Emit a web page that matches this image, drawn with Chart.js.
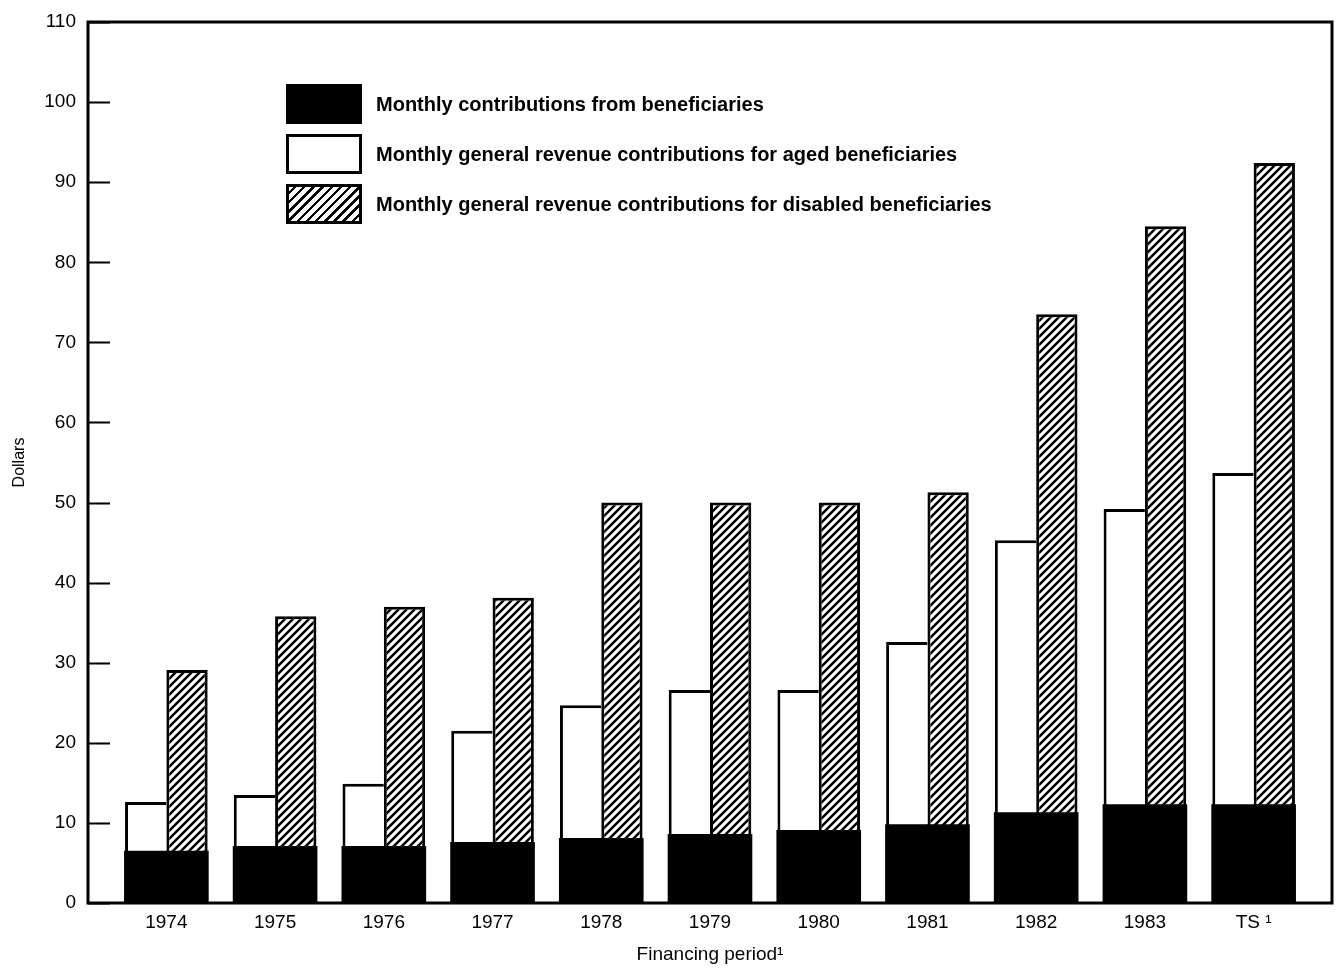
<!DOCTYPE html>
<html>
<head>
<meta charset="utf-8">
<script src="https://cdn.jsdelivr.net/npm/chart.js@4.4.1/dist/chart.umd.min.js"></script>
<style>
  html, body { margin: 0; padding: 0; background: #fff; }
  #wrap { position: relative; width: 1340px; height: 970px; }
  #legend { position: absolute; left: 286px; top: 84px; font-family: "Liberation Sans", Arial, sans-serif;
            font-weight: bold; font-size: 20px; color: #000; }
  .row { display: flex; align-items: center; height: 40px; margin-bottom: 10px; }
  .box { width: 70px; height: 34px; border: 3px solid #000; margin-right: 14px; box-sizing: content-box; }
  .black { background: #000; }
  .white { background: #fff; }
  .hatch { background: repeating-linear-gradient(135deg, #fff 0 3px, #000 3px 5.5px, #fff 5.5px 6.5px); }
</style>
</head>
<body>
<div id="wrap">
  <canvas id="chart" width="1340" height="970"></canvas>
  <div id="legend">
    <div class="row"><div class="box black"></div><span>Monthly contributions from beneficiaries</span></div>
    <div class="row"><div class="box white"></div><span>Monthly general revenue contributions for aged beneficiaries</span></div>
    <div class="row"><div class="box hatch"></div><span>Monthly general revenue contributions for disabled beneficiaries</span></div>
  </div>
</div>
<script>
// financing periods
const periods = ['1974', '1975', '1976', '1977', '1978', '1979', '1980', '1981', '1982', '1983', 'TS \u00B9'];
// monthly premium paid by the beneficiary (black)
const beneficiary = [6.4, 7.0, 7.0, 7.5, 8.0, 8.5, 9.0, 9.7, 11.2, 12.2, 12.2];
// total monthly rate, aged (top of white bar)
const agedTotal = [12.6, 13.5, 14.9, 21.5, 24.7, 26.6, 26.6, 32.6, 45.3, 49.2, 53.7];
// total monthly rate, disabled (top of hatched bar)
const disabledTotal = [29.1, 35.8, 37.0, 38.1, 50.0, 50.0, 50.0, 51.3, 73.5, 84.5, 92.4];
const yTicks = [0, 10, 20, 30, 40, 50, 60, 70, 80, 90, 100, 110];

const agedGeneral = agedTotal.map((v, i) => +(v - beneficiary[i]).toFixed(2));
const disabledGeneral = disabledTotal.map((v, i) => +(v - beneficiary[i]).toFixed(2));

// diagonal hatch pattern
function makeHatch() {
  const c = document.createElement('canvas');
  c.width = 8; c.height = 8;
  const g = c.getContext('2d');
  g.fillStyle = '#fff';
  g.fillRect(0, 0, 8, 8);
  g.strokeStyle = '#000';
  g.lineWidth = 2.5;
  g.beginPath();
  g.moveTo(-2, 10); g.lineTo(10, -2);
  g.moveTo(-2, 2); g.lineTo(2, -2);
  g.moveTo(6, 10); g.lineTo(10, 6);
  g.stroke();
  return g.createPattern(c, 'repeat');
}
const ctx = document.getElementById('chart').getContext('2d');
const hatch = makeHatch();

const font = 'Liberation Sans, Arial, sans-serif';

// frame round the plot and inward y ticks
const framePlugin = {
  id: 'frame',
  afterDraw(chart) {
    const a = chart.chartArea;
    const y = chart.scales.y;
    const g = chart.ctx;
    const left = a.left - 24, right = a.right + 24;
    g.save();
    g.strokeStyle = '#000';
    g.lineWidth = 3;
    g.strokeRect(left, a.top, right - left, a.bottom - a.top);
    g.lineWidth = 2;
    g.beginPath();
    yTicks.forEach(t => {
      const p = Math.round(y.getPixelForValue(t)) + 0.5;
      g.moveTo(left, p);
      g.lineTo(left + 22, p);
    });
    g.stroke();
    g.restore();
  }
};

new Chart(ctx, {
  type: 'bar',
  data: {
    labels: periods,
    datasets: [
      { label: 'Monthly contributions from beneficiaries', data: beneficiary, stack: 'aged',
        backgroundColor: '#000', borderColor: '#000', borderWidth: 0, inflateAmount: 1 },
      { label: 'Monthly general revenue contributions for aged beneficiaries', data: agedGeneral, stack: 'aged',
        backgroundColor: '#fff', borderColor: '#000', borderWidth: { top: 3, left: 3, right: 0, bottom: 0 }, borderSkipped: false },
      { label: 'beneficiaries (disabled)', data: beneficiary, stack: 'disabled',
        backgroundColor: '#000', borderColor: '#000', borderWidth: 0, inflateAmount: 1 },
      { label: 'Monthly general revenue contributions for disabled beneficiaries', data: disabledGeneral, stack: 'disabled',
        backgroundColor: hatch, borderColor: '#000', borderWidth: { top: 3, left: 3, right: 3, bottom: 0 }, borderSkipped: false }
    ]
  },
  options: {
    responsive: false,
    animation: false,
    devicePixelRatio: 1,
    layout: { padding: { top: 22, right: 32, left: 0, bottom: 0 } },
    datasets: { bar: { categoryPercentage: 0.76, barPercentage: 1.0 } },
    plugins: { legend: { display: false }, tooltip: { enabled: false } },
    scales: {
      x: {
        stacked: true,
        grid: { display: false, drawTicks: false },
        border: { display: false },
        ticks: { color: '#000', font: { family: font, size: 19 }, padding: 8 },
        title: { display: true, text: 'Financing period\u00B9', color: '#000', font: { family: font, size: 19 }, padding: { top: 6 } },
        afterFit(s) { s.height = 67; }
      },
      y: {
        stacked: true,
        min: 0, max: 110,
        afterBuildTicks(s) { s.ticks = yTicks.map(v => ({ value: v })); },
        grid: { display: false, drawTicks: false },
        border: { display: false },
        ticks: { color: '#000', font: { family: font, size: 19 }, padding: 36 },
        title: { display: true, text: 'Dollars', color: '#000', font: { family: font, size: 16 }, padding: { top: 10, bottom: 0 } },
        afterFit(s) { s.width = 112; s.paddingTop = 0; s.paddingBottom = 0; }
      }
    }
  },
  plugins: [framePlugin]
});
</script>
</body>
</html>
